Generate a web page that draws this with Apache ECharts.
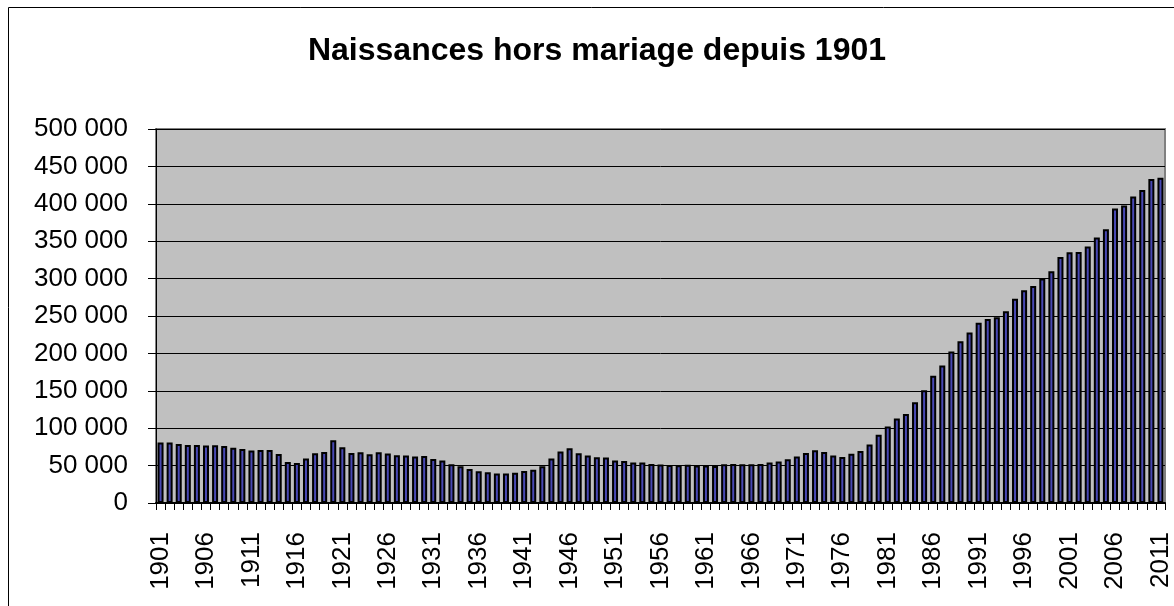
<!DOCTYPE html>
<html>
<head>
<meta charset="utf-8">
<script src="https://cdn.jsdelivr.net/npm/echarts@6/dist/echarts.min.js"></script>
<style>
  html, body { margin: 0; padding: 0; background: #fff; }
  #chart { width: 1174px; height: 606px; }
</style>
</head>
<body>
<div id="chart"></div>
<script>
var titleText = "Naissances hors mariage depuis 1901";

var years = [];
for (var y = 1901; y <= 2011; y++) { years.push(String(y)); }

// naissances hors mariage
var births1901_1930 = [80800, 80800, 79000, 77700, 77700, 76800, 77200, 76300, 73700, 72300,
                       70100, 71000, 71000, 65600, 54900, 53600, 59400, 66500, 68300, 83900,
                       74600, 67000, 67900, 65200, 67900, 66100, 63800, 63600, 62100, 62900];
var births1931_1960 = [58900, 56700, 51800, 49100, 45500, 42400, 41100, 39300, 39300, 40600,
                       42900, 44600, 49100, 59400, 68800, 73200, 66500, 63400, 61200, 60700,
                       56700, 56300, 54000, 54000, 52200, 51500, 50900, 50400, 51300, 50000];
var births1961_1990 = [50000, 49600, 51800, 52200, 51800, 51800, 52200, 54000, 55400, 58500,
                       62100, 67000, 70500, 68300, 63400, 61600, 65800, 69400, 78300, 91300,
                       102400, 113100, 119100, 134800, 150900, 170100, 183900, 202700, 216100, 228100];
var births1991_2011 = [241100, 246000, 248200, 256200, 273200, 284400, 290200, 300000, 309800, 329000,
                       335200, 335700, 342800, 354900, 366000, 393700, 397700, 409800, 418300, 433000,
                       434800];

var births = births1901_1930.concat(births1931_1960, births1961_1990, births1991_2011);

var chart = echarts.init(document.getElementById("chart"), null, { renderer: "canvas" });

function fmt(v) {
  var s = String(v);
  if (s.length > 3) { s = s.slice(0, s.length - 3) + " " + s.slice(s.length - 3); }
  return s;
}

var option = {
  animation: false,
  backgroundColor: "#ffffff",
  title: {
    text: titleText,
    left: 592,
    top: 30,
    textAlign: "center",
    textStyle: { fontFamily: "Liberation Sans, Arial", fontWeight: "bold", fontSize: 32, color: "#000" }
  },
  graphic: [{
    type: "rect",
    shape: { x: 8.5, y: 7.5, width: 1200, height: 700 },
    style: { fill: "none", stroke: "#000", lineWidth: 1 },
    silent: true
  }],
  grid: {
    left: 156, top: 129, right: 9, bottom: 103,
    show: true, backgroundColor: "#c0c0c0", borderColor: "#808080", borderWidth: 2
  },
  xAxis: {
    type: "category",
    data: years,
    boundaryGap: true,
    axisLine: { lineStyle: { color: "#000", width: 2 } },
    axisTick: { show: true, interval: 0, length: 7, lineStyle: { color: "#000" } },
    axisLabel: {
      interval: 4, rotate: 90, margin: 29,
      fontFamily: "Liberation Sans, Arial", fontSize: 26, color: "#000"
    },
    splitLine: { show: false }
  },
  yAxis: {
    type: "value",
    min: 0, max: 500000, interval: 50000,
    axisLine: { show: true, lineStyle: { color: "#000", width: 1 } },
    axisTick: { show: true, length: 8, lineStyle: { color: "#000" } },
    axisLabel: {
      margin: 28, formatter: fmt,
      fontFamily: "Liberation Sans, Arial", fontSize: 26, color: "#000"
    },
    splitLine: { show: true, lineStyle: { color: "#000", width: 1 } }
  },
  series: [{
    type: "bar",
    data: births,
    barWidth: 6,
    itemStyle: { color: "#4848b4", borderColor: "#000", borderWidth: 2 }
  }]
};

chart.setOption(option);
</script>
</body>
</html>
